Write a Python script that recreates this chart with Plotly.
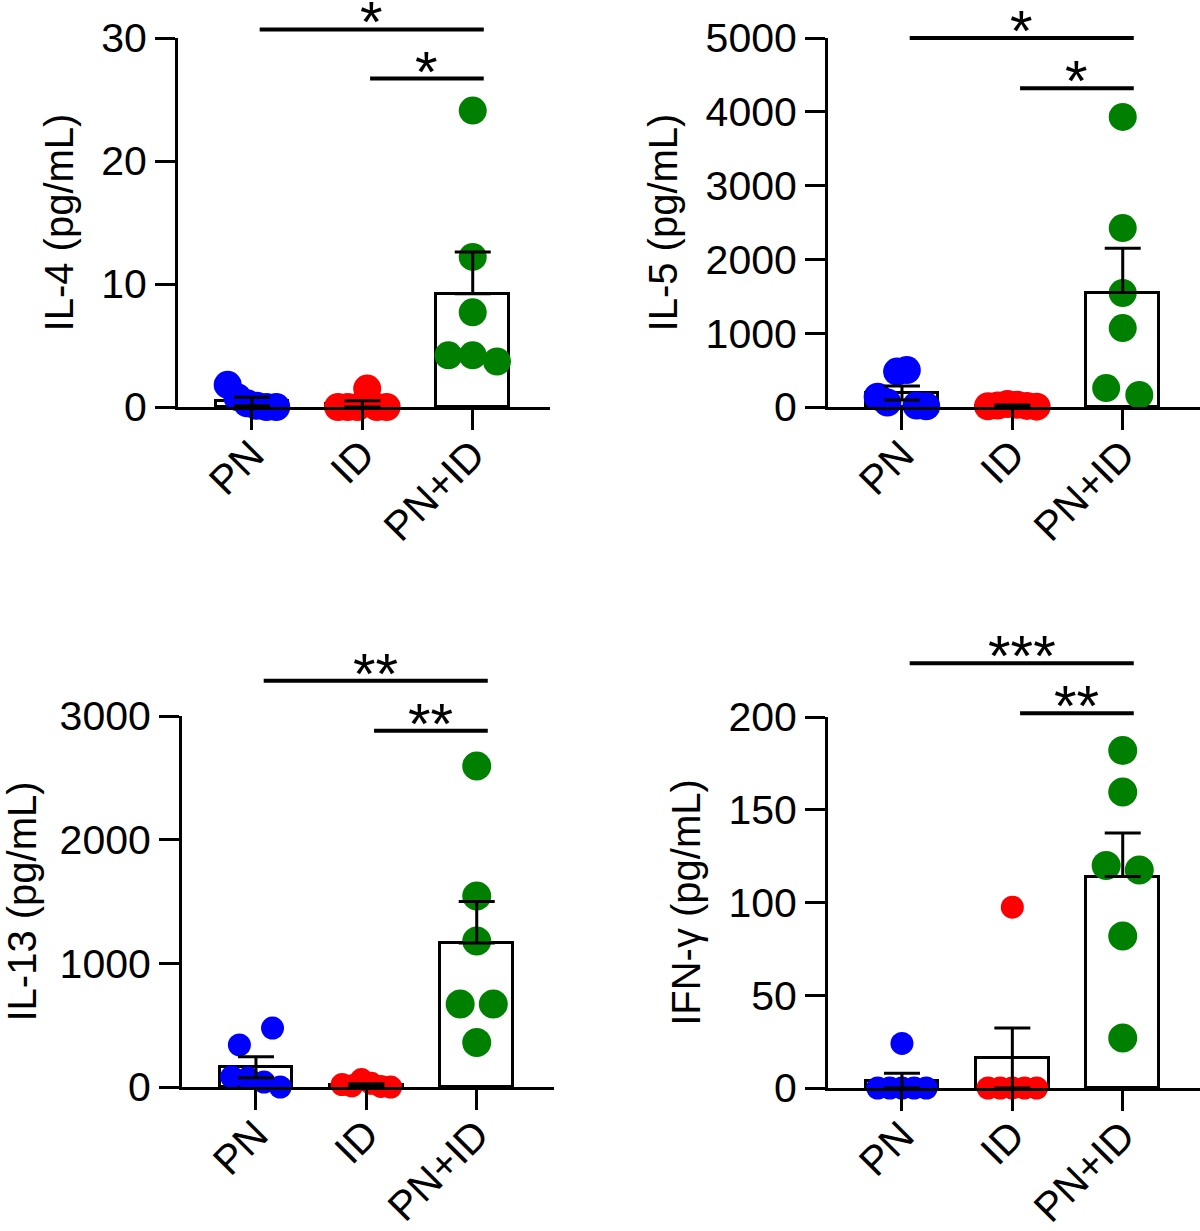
import plotly.graph_objects as go

# ----------------------- groups -------------------------------
groups = ['PN', 'ID', 'PN+ID']
colors = ['#0000FF', '#FF0000', '#008000']

# ----------------------- IL-4 ---------------------------------
il4_pn = [1.8, 0.8, 0.3, 0.1, 0.0, 0.0]
il4_id = [0.0, 0.0, 0.0, 1.5, 0.0, 0.0]
il4_pnid = [24.1, 12.2, 7.7, 4.2, 4.2, 3.7]
il4_mean = [0.45, 0.25, 9.2]
il4_sem = [0.35, 0.25, 3.4]
il4_ticks = [0, 10, 20, 30]
il4_sig = [(0, 2, 30.7, '*'), (1, 2, 26.7, '*')]

# ----------------------- IL-5 ---------------------------------
il5_pn = [140, 60, 480, 500, 20, 10]
il5_id = [10, 20, 40, 30, 15, 5]
il5_pnid = [3930, 2425, 1545, 1070, 257, 163]
il5_mean = [190, 20, 1550]
il5_sem = [95, 8, 600]
il5_ticks = [0, 1000, 2000, 3000, 4000, 5000]
il5_sig = [(0, 2, 5000, '*'), (1, 2, 4320, '*')]

# ----------------------- IL-13 --------------------------------
il13_pn = [81, 340, 73, 477, 40, 0]
il13_id = [20, 10, 60, 30, 5, 0]
il13_pnid = [2595, 1544, 1180, 671, 671, 360]
il13_mean = [160, 18, 1165]
il13_sem = [85, 8, 335]
il13_ticks = [0, 1000, 2000, 3000]
il13_sig = [(0, 2, 3285, '**'), (1, 2, 2880, '**')]

# ----------------------- IFN-g --------------------------------
ifn_pn = [0, 0, 24, 0, 0, 0]
ifn_id = [0, 0, 97.5, 0, 0, 0]
ifn_pnid = [182, 159.6, 120, 117.5, 82, 27]
ifn_mean = [4, 16.2, 114]
ifn_sem = [4, 16.2, 23.5]
ifn_ticks = [0, 50, 100, 150, 200]
ifn_sig = [(0, 2, 229, '***'), (1, 2, 202, '**')]

FONT = 'Liberation Sans, Arial, sans-serif'
W, H = 1200, 1231

panels = [
    dict(title='IL-4 (pg/mL)', pts=[il4_pn, il4_id, il4_pnid], mean=il4_mean, sem=il4_sem,
         ticks=il4_ticks, sig=il4_sig, sizes=[28, 28, 28], px=(178, 550), py=(38, 407)),
    dict(title='IL-5 (pg/mL)', pts=[il5_pn, il5_id, il5_pnid], mean=il5_mean, sem=il5_sem,
         ticks=il5_ticks, sig=il5_sig, sizes=[28, 28, 28], px=(828, 1200), py=(38, 407)),
    dict(title='IL-13 (pg/mL)', pts=[il13_pn, il13_id, il13_pnid], mean=il13_mean, sem=il13_sem,
         ticks=il13_ticks, sig=il13_sig, sizes=[23, 23, 29], px=(182, 554), py=(716, 1087)),
    dict(title='IFN-γ (pg/mL)', pts=[ifn_pn, ifn_id, ifn_pnid], mean=ifn_mean, sem=ifn_sem,
         ticks=ifn_ticks, sig=ifn_sig, sizes=[23, 23, 29], px=(828, 1200), py=(717, 1088)),
]


# spread overlapping dots sideways (prism-like scatter)
def swarm(vals, ymax, plot_h, size):
    pix = [v / ymax * plot_h for v in vals]
    order = sorted(range(len(vals)), key=lambda i: pix[i])
    rows, cur = [], [order[0]]
    for a, b in zip(order, order[1:]):
        if pix[b] - pix[a] < size:
            cur.append(b)
        else:
            rows.append(cur)
            cur = [b]
    rows.append(cur)
    dx = [0.0] * len(vals)
    for row in rows:
        row = sorted(row)
        n = len(row)
        if n == 1:
            continue
        step = min(0.3, 0.44 / (n - 1))
        for k, i in enumerate(row):
            dx[i] = (k - (n - 1) / 2) * step
    return dx


fig = go.Figure()
shapes, annotations = [], []

for n, p in enumerate(panels, start=1):
    xa = 'x' if n == 1 else 'x%d' % n
    ya = 'y' if n == 1 else 'y%d' % n
    ymax = p['ticks'][-1]
    plot_h = p['py'][1] - p['py'][0]

    fig.add_trace(go.Bar(x=[0, 1, 2], y=p['mean'], width=0.66, xaxis=xa, yaxis=ya,
                         marker=dict(color='white', line=dict(color='black', width=3)),
                         showlegend=False))

    for g in range(3):
        vals = p['pts'][g]
        dx = swarm(vals, ymax, plot_h, p['sizes'][g])
        fig.add_trace(go.Scatter(x=[g + d for d in dx], y=vals, mode='markers', xaxis=xa, yaxis=ya,
                                 marker=dict(color=colors[g], size=p['sizes'][g], line=dict(width=0)),
                                 cliponaxis=False, showlegend=False))

    fig.add_trace(go.Scatter(x=[0, 1, 2], y=p['mean'], mode='markers', xaxis=xa, yaxis=ya,
                             marker=dict(size=1, opacity=0),
                             error_y=dict(type='data', array=p['sem'], arrayminus=p['sem'][:2] + [0],
                                          color='black', thickness=3, width=18),
                             cliponaxis=False, showlegend=False))

    for g1, g2, level, label in p['sig']:
        yd = level / ymax
        shapes.append(dict(type='line', xref=xa, yref=ya + ' domain', x0=g1 + 0.07, x1=g2 + 0.1,
                           y0=yd, y1=yd, line=dict(color='black', width=4)))
        annotations.append(dict(x=(g1 + g2 + 0.17) / 2, y=yd, xref=xa, yref=ya + ' domain',
                                text=label, showarrow=False, yanchor='bottom', yshift=-27,
                                font=dict(family=FONT, size=58, color='black')))

    x0, x1 = p['px']
    y0, y1 = p['py']
    axis_common = dict(showline=True, linecolor='black', linewidth=3, ticks='outside',
                       ticklen=20, tickwidth=3, tickcolor='black', showgrid=False, zeroline=False,
                       automargin=False, tickfont=dict(family=FONT, size=41, color='black'))
    fig.layout['xaxis' + ('' if n == 1 else str(n))] = dict(
        domain=[x0 / W, x1 / W], anchor=ya, range=[-0.67, 2.7],
        tickmode='array', tickvals=[0, 1, 2], ticktext=groups, tickangle=-45,
        ticklabelstandoff=-16, **axis_common)
    fig.layout['yaxis' + ('' if n == 1 else str(n))] = dict(
        domain=[1 - y1 / H, 1 - y0 / H], anchor=xa, range=[0, ymax],
        tickmode='array', tickvals=p['ticks'],
        title=dict(text=p['title'], font=dict(family=FONT, size=40, color='black'), standoff=16),
        **axis_common)

fig.update_layout(width=W, height=H, margin=dict(l=0, r=0, t=0, b=0),
                  plot_bgcolor='white', paper_bgcolor='white', bargap=0,
                  shapes=shapes, annotations=annotations, showlegend=False)

fig.write_html("out.html", config={'displayModeBar': False},
               post_script="document.body.style.margin='0px';")
